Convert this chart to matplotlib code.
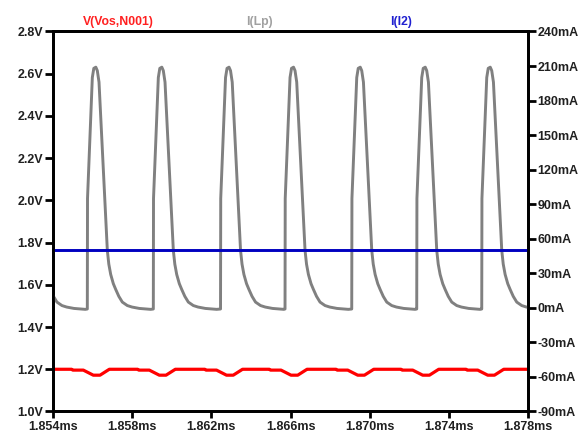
import numpy as np
import matplotlib.pyplot as plt

plt.rcParams['font.family'] = ['Liberation Sans', 'DejaVu Sans']

# time axis (ms)
x_ticks = [1.854, 1.858, 1.862, 1.866, 1.870, 1.874, 1.878]
v_ticks = [1.0, 1.2, 1.4, 1.6, 1.8, 2.0, 2.2, 2.4, 2.6, 2.8]
i_ticks = [-90, -60, -30, 0, 30, 60, 90, 120, 150, 180, 210, 240]

# switching edges of I(Lp) (ms)
rise_times = [1.85243, 1.855733, 1.859068, 1.862464, 1.865723, 1.869094, 1.872378, 1.875663]

# one I(Lp) pulse: offset after the edge (us) and current (mA)
lp_offset = [0, 0.01, 0.253, 0.328, 0.43, 0.505, 0.591, 1.011, 1.086, 1.182,
             1.314, 1.435, 1.592, 1.769, 2.021, 2.259, 2.628, 3.2]
lp_value = [-1, 95, 200, 208, 209, 206, 196, 50, 38, 29,
            21, 16, 10, 5, 2, 0.7, -0.5, -1.3]

# dip in V(Vos,N001) around each edge: offset (us) and voltage (V)
vos_offset = [-0.788, -0.738, -0.202, 0.303, 0.642, 1.061, 1.112]
vos_value = [1.2, 1.196, 1.196, 1.172, 1.172, 1.197, 1.2]

# I(I2) is flat
i2_time = [1.854, 1.878]
i2_value = [50, 50]

# build the traces
lp_t, lp_y = [], []
for r in rise_times:
    for o, v in zip(lp_offset, lp_value):
        lp_t.append(r + o / 1000)
        lp_y.append(v)

vos_t, vos_y = [1.854], [1.2]
for r in rise_times[1:]:
    for o, v in zip(vos_offset, vos_value):
        vos_t.append(r + o / 1000)
        vos_y.append(v)
vos_t.append(1.878)
vos_y.append(1.2)

fig = plt.figure(figsize=(5.82, 4.36), dpi=100)
ax = fig.add_axes([0.0911, 0.0562, 0.8161, 0.8716])
ax2 = ax.twinx()

ax.plot(vos_t, vos_y, color='#ff0000', lw=2.3)
ax2.plot(lp_t, lp_y, color='#808080', lw=2.1)
ax2.plot(i2_time, i2_value, color='#0000c0', lw=2.1)

ax.set_xlim(1.854, 1.878)
ax.set_ylim(1.0, 2.8)
ax2.set_ylim(-90, 240)

ax.set_xticks(x_ticks)
ax.set_xticklabels(['%.3fms' % t for t in x_ticks])
ax.set_yticks(v_ticks)
ax.set_yticklabels(['%.1fV' % v for v in v_ticks])
ax2.set_yticks(i_ticks)
ax2.set_yticklabels(['%dmA' % i for i in i_ticks])

for a in (ax, ax2):
    for s in a.spines.values():
        s.set_linewidth(2)
        s.set_color('black')
    a.tick_params(direction='out', length=6, width=2, labelsize=9, pad=1)
for lab in ax.get_xticklabels() + ax.get_yticklabels() + ax2.get_yticklabels():
    lab.set_fontweight('bold')
    lab.set_color('#202020')
ax.tick_params(axis='x', length=5, pad=2)

fig.text(0.203, 0.950, 'V(Vos,N001)', color='#ff2020', fontsize=8.8, fontweight='bold', ha='center', va='center')
fig.text(0.446, 0.950, 'I(Lp)', color='#a0a0a0', fontsize=8.8, fontweight='bold', ha='center', va='center')
fig.text(0.689, 0.950, 'I(I2)', color='#2020d0', fontsize=8.8, fontweight='bold', ha='center', va='center')

fig.savefig('out.png', dpi=100)
